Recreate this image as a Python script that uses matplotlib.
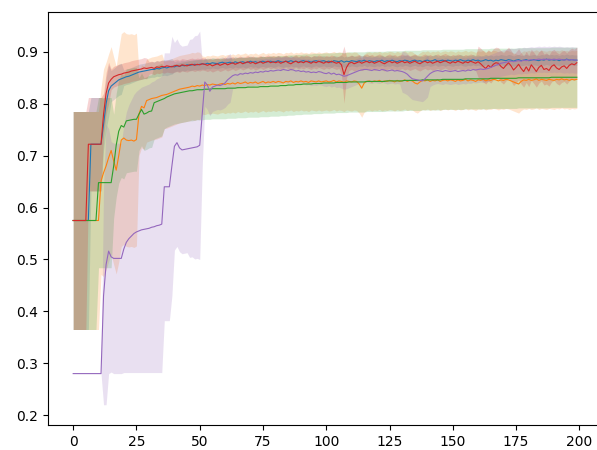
import numpy as np
import matplotlib
matplotlib.use('Agg')
import matplotlib.pyplot as plt

x = np.arange(200)

blue = [0.575, 0.575, 0.575, 0.575, 0.575, 0.575, 0.575, 0.722, 0.722, 0.722,
        0.722, 0.722, 0.760, 0.800, 0.825, 0.834, 0.838, 0.842, 0.846, 0.848,
        0.850, 0.852, 0.853, 0.855, 0.857, 0.859, 0.861, 0.862, 0.863, 0.864,
        0.865, 0.866, 0.866, 0.868, 0.867, 0.869, 0.870, 0.869, 0.871, 0.872,
        0.871, 0.873, 0.872, 0.874, 0.873, 0.875, 0.874, 0.875, 0.876, 0.875,
        0.876, 0.877, 0.876, 0.878, 0.877, 0.879, 0.878, 0.877, 0.879, 0.880,
        0.878, 0.879, 0.880, 0.878, 0.881, 0.879, 0.880, 0.881, 0.879, 0.880,
        0.882, 0.880, 0.881, 0.879, 0.881, 0.882, 0.880, 0.881, 0.882, 0.880,
        0.881, 0.883, 0.881, 0.880, 0.882, 0.881, 0.883, 0.881, 0.882, 0.880,
        0.882, 0.883, 0.881, 0.882, 0.880, 0.882, 0.883, 0.881, 0.882, 0.883,
        0.881, 0.882, 0.880, 0.883, 0.882, 0.881, 0.883, 0.880, 0.882, 0.881,
        0.883, 0.882, 0.881, 0.883, 0.882, 0.884, 0.881, 0.883, 0.882, 0.881,
        0.883, 0.882, 0.884, 0.881, 0.883, 0.882, 0.884, 0.882, 0.881, 0.883,
        0.882, 0.884, 0.883, 0.881, 0.883, 0.884, 0.882, 0.883, 0.881, 0.883,
        0.884, 0.882, 0.883, 0.885, 0.882, 0.883, 0.884, 0.882, 0.884, 0.883,
        0.882, 0.884, 0.883, 0.885, 0.883, 0.882, 0.884, 0.883, 0.885, 0.883,
        0.884, 0.882, 0.883, 0.885, 0.883, 0.884, 0.882, 0.884, 0.883, 0.885,
        0.884, 0.883, 0.885, 0.884, 0.882, 0.884, 0.885, 0.883, 0.884, 0.885,
        0.883, 0.884, 0.885, 0.884, 0.883, 0.885, 0.884, 0.886, 0.884, 0.885,
        0.884, 0.885, 0.883, 0.885, 0.884, 0.886, 0.884, 0.885, 0.884, 0.884]

orange = [0.575, 0.575, 0.575, 0.575, 0.575, 0.575, 0.575, 0.575, 0.575, 0.575,
          0.575, 0.651, 0.667, 0.680, 0.696, 0.710, 0.690, 0.672, 0.700, 0.730,
          0.734, 0.730, 0.729, 0.730, 0.728, 0.731, 0.780, 0.795, 0.792, 0.806,
          0.808, 0.810, 0.811, 0.812, 0.814, 0.816, 0.817, 0.818, 0.820, 0.822,
          0.824, 0.826, 0.828, 0.829, 0.830, 0.831, 0.832, 0.834, 0.833, 0.835,
          0.834, 0.836, 0.835, 0.837, 0.836, 0.838, 0.837, 0.836, 0.838, 0.839,
          0.837, 0.839, 0.838, 0.840, 0.838, 0.841, 0.839, 0.840, 0.842, 0.839,
          0.841, 0.840, 0.842, 0.839, 0.841, 0.843, 0.840, 0.842, 0.841, 0.843,
          0.841, 0.843, 0.842, 0.840, 0.843, 0.842, 0.844, 0.841, 0.843, 0.842,
          0.844, 0.842, 0.843, 0.841, 0.844, 0.843, 0.842, 0.844, 0.842, 0.843,
          0.844, 0.842, 0.843, 0.845, 0.842, 0.844, 0.843, 0.841, 0.844, 0.843,
          0.842, 0.844, 0.843, 0.838, 0.830, 0.840, 0.843, 0.844, 0.842, 0.844,
          0.843, 0.845, 0.842, 0.844, 0.843, 0.845, 0.844, 0.842, 0.845, 0.843,
          0.844, 0.846, 0.843, 0.845, 0.844, 0.840, 0.838, 0.842, 0.845, 0.844,
          0.846, 0.843, 0.845, 0.844, 0.846, 0.843, 0.845, 0.846, 0.844, 0.846,
          0.845, 0.843, 0.846, 0.844, 0.845, 0.847, 0.844, 0.846, 0.845, 0.843,
          0.846, 0.845, 0.847, 0.844, 0.846, 0.845, 0.847, 0.846, 0.844, 0.846,
          0.845, 0.847, 0.846, 0.844, 0.842, 0.840, 0.838, 0.843, 0.846, 0.845,
          0.847, 0.845, 0.846, 0.848, 0.845, 0.847, 0.846, 0.845, 0.847, 0.846,
          0.845, 0.847, 0.846, 0.848, 0.846, 0.847, 0.845, 0.847, 0.846, 0.847]

green = [0.575, 0.575, 0.575, 0.575, 0.575, 0.575, 0.575, 0.575, 0.575, 0.575,
         0.648, 0.648, 0.648, 0.648, 0.648, 0.648, 0.680, 0.720, 0.747, 0.758,
         0.755, 0.767, 0.768, 0.769, 0.770, 0.770, 0.780, 0.789, 0.780, 0.782,
         0.785, 0.786, 0.802, 0.804, 0.806, 0.808, 0.810, 0.813, 0.815, 0.817,
         0.819, 0.820, 0.821, 0.822, 0.823, 0.824, 0.825, 0.825, 0.826, 0.827,
         0.827, 0.827, 0.828, 0.828, 0.828, 0.829, 0.829, 0.829, 0.829, 0.829,
         0.829, 0.830, 0.830, 0.830, 0.830, 0.831, 0.831, 0.831, 0.831, 0.832,
         0.832, 0.832, 0.832, 0.832, 0.833, 0.833, 0.833, 0.833, 0.834, 0.834,
         0.834, 0.834, 0.835, 0.835, 0.835, 0.836, 0.836, 0.836, 0.837, 0.837,
         0.837, 0.838, 0.838, 0.838, 0.838, 0.839, 0.839, 0.839, 0.839, 0.840,
         0.840, 0.840, 0.840, 0.840, 0.841, 0.841, 0.841, 0.841, 0.841, 0.842,
         0.842, 0.842, 0.842, 0.842, 0.842, 0.842, 0.843, 0.843, 0.843, 0.843,
         0.843, 0.843, 0.843, 0.843, 0.844, 0.844, 0.844, 0.844, 0.844, 0.844,
         0.844, 0.845, 0.845, 0.845, 0.845, 0.845, 0.845, 0.845, 0.846, 0.846,
         0.846, 0.846, 0.846, 0.846, 0.846, 0.846, 0.847, 0.847, 0.847, 0.847,
         0.847, 0.847, 0.847, 0.847, 0.847, 0.848, 0.848, 0.848, 0.848, 0.848,
         0.848, 0.848, 0.848, 0.848, 0.848, 0.849, 0.849, 0.849, 0.849, 0.849,
         0.849, 0.849, 0.849, 0.849, 0.849, 0.849, 0.850, 0.850, 0.850, 0.850,
         0.850, 0.850, 0.850, 0.850, 0.850, 0.850, 0.850, 0.850, 0.850, 0.851,
         0.851, 0.851, 0.851, 0.851, 0.851, 0.851, 0.851, 0.851, 0.851, 0.851]

red = [0.575, 0.575, 0.575, 0.575, 0.575, 0.575, 0.722, 0.722, 0.722, 0.722,
       0.722, 0.722, 0.780, 0.820, 0.840, 0.847, 0.852, 0.854, 0.856, 0.857,
       0.859, 0.860, 0.861, 0.863, 0.864, 0.865, 0.866, 0.867, 0.869, 0.868,
       0.869, 0.870, 0.868, 0.871, 0.870, 0.872, 0.871, 0.873, 0.872, 0.871,
       0.873, 0.874, 0.872, 0.875, 0.874, 0.873, 0.875, 0.876, 0.874, 0.876,
       0.875, 0.877, 0.876, 0.874, 0.876, 0.873, 0.875, 0.877, 0.874, 0.876,
       0.878, 0.875, 0.877, 0.879, 0.876, 0.878, 0.880, 0.877, 0.879, 0.881,
       0.878, 0.880, 0.877, 0.879, 0.881, 0.878, 0.880, 0.882, 0.879, 0.881,
       0.879, 0.881, 0.878, 0.880, 0.882, 0.879, 0.877, 0.880, 0.882, 0.879,
       0.881, 0.879, 0.882, 0.880, 0.878, 0.881, 0.879, 0.882, 0.880, 0.878,
       0.881, 0.879, 0.882, 0.880, 0.878, 0.880, 0.875, 0.856, 0.870, 0.878,
       0.880, 0.877, 0.879, 0.881, 0.878, 0.880, 0.882, 0.879, 0.881, 0.878,
       0.880, 0.882, 0.879, 0.877, 0.880, 0.882, 0.879, 0.881, 0.878, 0.880,
       0.882, 0.879, 0.881, 0.878, 0.880, 0.882, 0.879, 0.877, 0.880, 0.882,
       0.879, 0.881, 0.878, 0.880, 0.882, 0.879, 0.881, 0.883, 0.880, 0.878,
       0.881, 0.879, 0.882, 0.880, 0.878, 0.881, 0.879, 0.882, 0.880, 0.878,
       0.881, 0.877, 0.872, 0.868, 0.874, 0.870, 0.876, 0.879, 0.878, 0.872,
       0.868, 0.874, 0.879, 0.873, 0.865, 0.870, 0.876, 0.868, 0.862, 0.871,
       0.863, 0.875, 0.869, 0.862, 0.870, 0.874, 0.866, 0.868, 0.864, 0.872,
       0.875, 0.869, 0.866, 0.871, 0.873, 0.868, 0.874, 0.877, 0.875, 0.879]

purple = [0.280, 0.280, 0.280, 0.280, 0.280, 0.280, 0.280, 0.280, 0.280, 0.280,
          0.280, 0.280, 0.430, 0.490, 0.516, 0.505, 0.502, 0.502, 0.502, 0.502,
          0.520, 0.533, 0.540, 0.545, 0.550, 0.553, 0.555, 0.557, 0.558, 0.559,
          0.560, 0.562, 0.563, 0.565, 0.566, 0.568, 0.640, 0.640, 0.640, 0.680,
          0.718, 0.725, 0.715, 0.711, 0.712, 0.713, 0.714, 0.715, 0.716, 0.717,
          0.720, 0.780, 0.842, 0.836, 0.824, 0.832, 0.834, 0.836, 0.835, 0.837,
          0.840, 0.846, 0.850, 0.854, 0.856, 0.855, 0.858, 0.857, 0.859, 0.858,
          0.860, 0.859, 0.861, 0.860, 0.862, 0.861, 0.863, 0.862, 0.864, 0.863,
          0.864, 0.865, 0.864, 0.866, 0.865, 0.864, 0.866, 0.865, 0.863, 0.864,
          0.862, 0.863, 0.861, 0.862, 0.860, 0.861, 0.860, 0.862, 0.861, 0.859,
          0.858, 0.860, 0.857, 0.859, 0.856, 0.857, 0.855, 0.853, 0.854, 0.856,
          0.858, 0.860, 0.862, 0.864, 0.865, 0.866, 0.866, 0.865, 0.864, 0.866,
          0.865, 0.864, 0.866, 0.865, 0.863, 0.864, 0.865, 0.863, 0.864, 0.863,
          0.862, 0.860, 0.857, 0.852, 0.848, 0.847, 0.846, 0.845, 0.844, 0.848,
          0.853, 0.858, 0.861, 0.863, 0.864, 0.863, 0.862, 0.864, 0.863, 0.862,
          0.863, 0.864, 0.862, 0.863, 0.864, 0.863, 0.865, 0.864, 0.866, 0.865,
          0.866, 0.867, 0.866, 0.867, 0.868, 0.870, 0.872, 0.874, 0.876, 0.878,
          0.879, 0.880, 0.881, 0.882, 0.881, 0.882, 0.883, 0.882, 0.884, 0.883,
          0.884, 0.885, 0.884, 0.885, 0.886, 0.885, 0.886, 0.885, 0.886, 0.885,
          0.886, 0.885, 0.886, 0.885, 0.884, 0.885, 0.884, 0.885, 0.884, 0.884]

# spread of each band, as (value, number of points) runs
blue_sd = [(0.21, 7), (0.09, 5), (0.05, 3), (0.03, 5), (0.015, 20), (0.01, 160)]
orange_sd = [(0.21, 11), (0.18, 1), (0.20, 6), (0.205, 8), (0.08, 10),
             (0.065, 15), (0.056, 149)]
green_sd = [(0.21, 10), (0.164, 6), (0.10, 10), (0.07, 10), (0.058, 164)]
red_sd = [(0.21, 6), (0.09, 6), (0.04, 3), (0.02, 15), (0.012, 76),
          (0.02, 1), (0.055, 1), (0.02, 1), (0.014, 51), (0.03, 40)]
purple_sd = [(0.0, 12), (0.21, 1), (0.27, 1), (0.236, 1), (0.222, 5),
             (0.238, 1), (0.251, 1), (0.258, 1), (0.263, 1), (0.268, 1),
             (0.271, 1), (0.273, 1), (0.275, 1), (0.276, 1), (0.277, 1),
             (0.278, 1), (0.280, 1), (0.281, 1), (0.283, 1), (0.284, 1),
             (0.286, 1), (0.258, 3), (0.25, 1), (0.2, 2), (0.2, 4),
             (0.21, 2), (0.215, 2), (0.22, 1), (0.1, 1), (0.047, 11),
             (0.025, 67), (0.04, 11), (0.025, 59)]


def expand(runs):
    out = []
    for v, n in runs:
        out += [v] * n
    return np.array(out)


fig = plt.figure(figsize=(5.97, 4.5), dpi=100)
ax = fig.add_axes([0.0804, 0.0556, 0.928, 0.918])

series = [(blue, blue_sd, 'C0'), (orange, orange_sd, 'C1'),
          (green, green_sd, 'C2'), (red, red_sd, 'C3'),
          (purple, purple_sd, 'C4')]
for m, sd, c in series:
    m = np.array(m)
    s = expand(sd)
    ax.plot(x, m, color=c, lw=0.8)
    ax.fill_between(x, m - s, m + s, color=c, alpha=0.2, lw=0)

ax.set_xlim(-9.95, 208.95)
ax.set_ylim(0.181, 0.977)
fig.savefig('out.png', dpi=100)
